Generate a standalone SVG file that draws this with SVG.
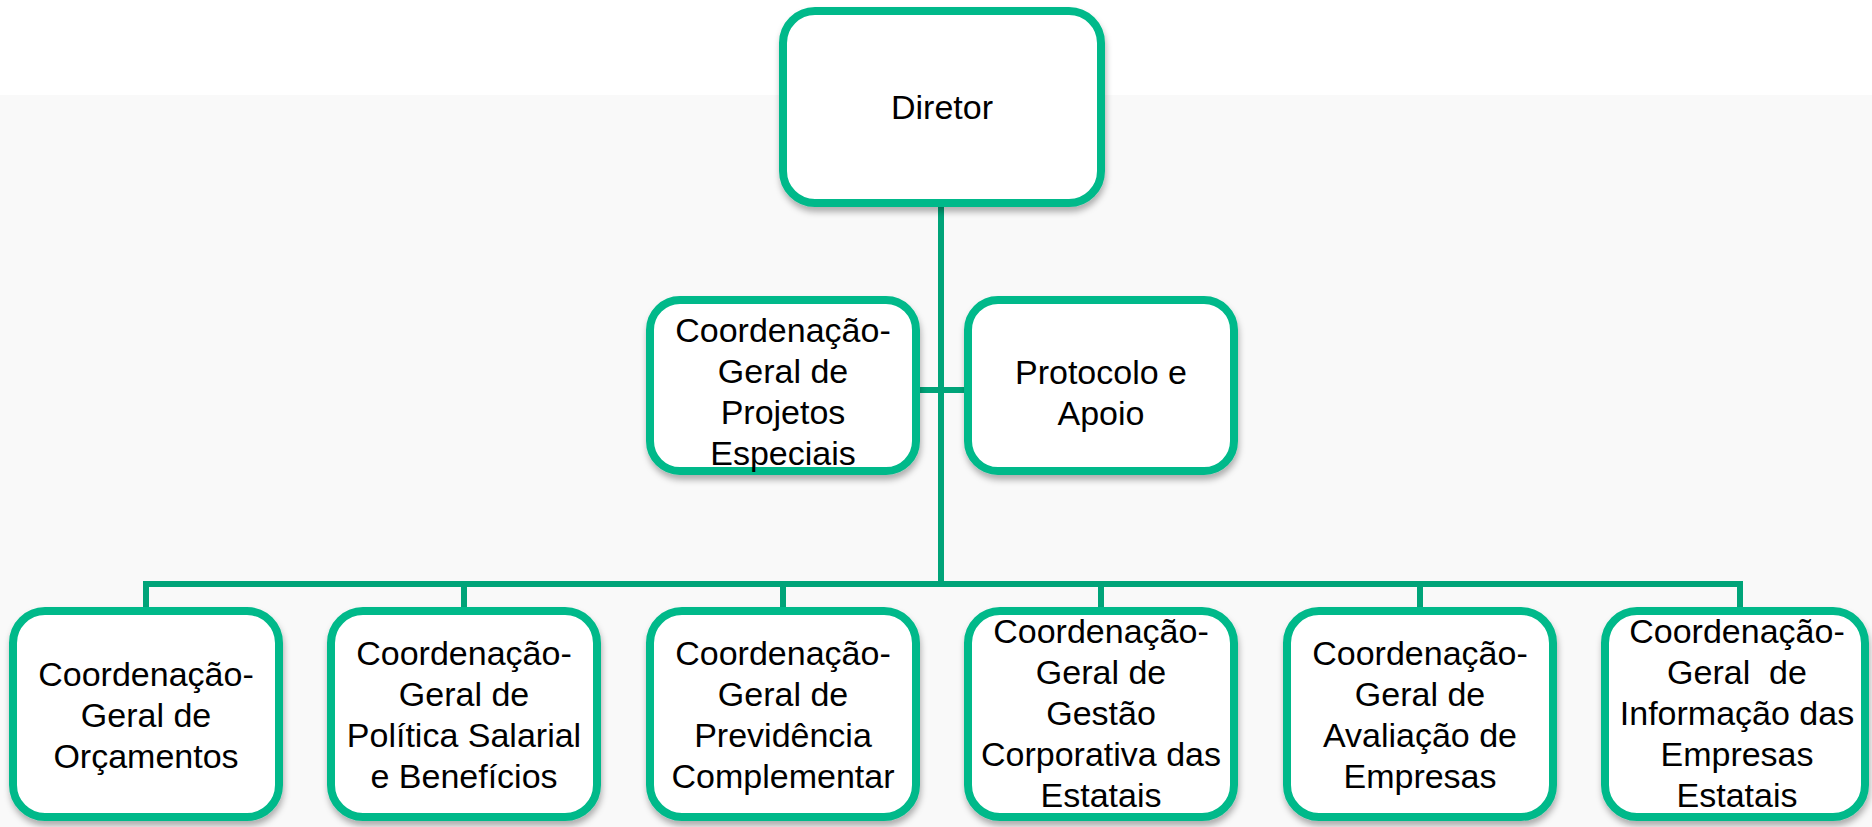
<svg xmlns="http://www.w3.org/2000/svg" width="1872" height="827" viewBox="0 0 1872 827">
<style>
.box{fill:#ffffff;stroke:#00b98a;stroke-width:8;filter:url(#sh)}
.t{font-family:"Liberation Sans",Arial,sans-serif;font-size:34px;fill:#000;text-anchor:middle;white-space:pre}
.c{fill:none;stroke:#00a479;stroke-width:6}
</style>
<defs>
<filter id="sh" x="-10%" y="-10%" width="120%" height="125%">
<feDropShadow dx="1" dy="5" stdDeviation="3" flood-color="#000" flood-opacity="0.3"/>
</filter>
</defs>
<rect x="0" y="0" width="1872" height="827" fill="#ffffff"/>
<rect x="0" y="95" width="1872" height="732" fill="#f9f9f9"/>
<g id="connectors">
<path class="c" d="M941,203 V584"/>
<path class="c" d="M916,390 H968"/>
<path class="c" d="M146,610 V584 H1740 V610"/>
<path class="c" d="M464,584 V610 M783,584 V610 M1101,584 V610 M1420,584 V610"/>
</g>
<g id="n-diretor">
<rect class="box" x="783" y="11" width="318" height="192" rx="32"/>
<text class="t" x="942" y="119">Diretor</text>
</g>
<g id="n-projetos">
<rect class="box" x="650" y="300" width="266" height="171" rx="30"/>
<text class="t" x="783" y="342">Coordenação-</text>
<text class="t" x="783" y="383">Geral de</text>
<text class="t" x="783" y="424">Projetos</text>
<text class="t" x="783" y="465">Especiais</text>
</g>
<g id="n-protocolo">
<rect class="box" x="968" y="300" width="266" height="171" rx="30"/>
<text class="t" x="1101" y="384">Protocolo e</text>
<text class="t" x="1101" y="425">Apoio</text>
</g>
<g id="n-orcamentos">
<rect class="box" x="13" y="611" width="266" height="206" rx="32"/>
<text class="t" x="146" y="686">Coordenação-</text>
<text class="t" x="146" y="727">Geral de</text>
<text class="t" x="146" y="768">Orçamentos</text>
</g>
<g id="n-politica">
<rect class="box" x="331" y="611" width="266" height="206" rx="32"/>
<text class="t" x="464" y="665">Coordenação-</text>
<text class="t" x="464" y="706">Geral de</text>
<text class="t" x="464" y="747">Política Salarial</text>
<text class="t" x="464" y="788">e Benefícios</text>
</g>
<g id="n-previdencia">
<rect class="box" x="650" y="611" width="266" height="206" rx="32"/>
<text class="t" x="783" y="665">Coordenação-</text>
<text class="t" x="783" y="706">Geral de</text>
<text class="t" x="783" y="747">Previdência</text>
<text class="t" x="783" y="788">Complementar</text>
</g>
<g id="n-gestao">
<rect class="box" x="968" y="611" width="266" height="206" rx="32"/>
<text class="t" x="1101" y="643">Coordenação-</text>
<text class="t" x="1101" y="684">Geral de</text>
<text class="t" x="1101" y="725">Gestão</text>
<text class="t" x="1101" y="766">Corporativa das</text>
<text class="t" x="1101" y="807">Estatais</text>
</g>
<g id="n-avaliacao">
<rect class="box" x="1287" y="611" width="266" height="206" rx="32"/>
<text class="t" x="1420" y="665">Coordenação-</text>
<text class="t" x="1420" y="706">Geral de</text>
<text class="t" x="1420" y="747">Avaliação de</text>
<text class="t" x="1420" y="788">Empresas</text>
</g>
<g id="n-informacao">
<rect class="box" x="1605" y="611" width="260" height="206" rx="32"/>
<text class="t" x="1737" y="643">Coordenação-</text>
<text class="t" x="1737" y="684">Geral  de</text>
<text class="t" x="1737" y="725">Informação das</text>
<text class="t" x="1737" y="766">Empresas</text>
<text class="t" x="1737" y="807">Estatais</text>
</g>
</svg>
